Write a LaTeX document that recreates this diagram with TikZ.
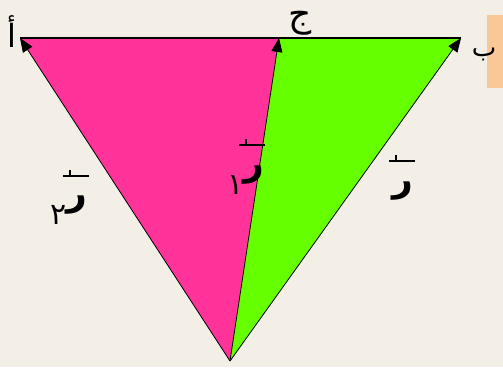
\documentclass[tikz,border=0pt]{standalone}
\usepackage{fontspec}
\newfontfamily\arabicfont[Script=Arabic]{DejaVu Sans}
\TeXXeTstate=1
\usetikzlibrary{arrows.meta}
\definecolor{paper}{RGB}{243,238,230}
\definecolor{rose}{RGB}{255,51,153}
\definecolor{lime}{RGB}{102,255,0}
\definecolor{tag}{RGB}{250,200,150}
\newcommand\subdigit[1]{\raisebox{-19pt}{\mdseries\fontsize{30}{34}\selectfont #1}}

\begin{document}
\begin{tikzpicture}[x=1pt,y=-1pt]
   \tikzstyle{vec}=[black,line width=0.8pt,-{Triangle[length=14pt,width=11pt]}]
   \tikzstyle{lbl}=[inner sep=0pt]
   \tikzstyle{vlbl}=[font=\arabicfont\bfseries\fontsize{36}{42}\selectfont,inner sep=0pt,anchor=base]
   \tikzset{vbar/.pic={\draw [line width=1.2pt] (-13,0) -- (13,0) (-6,0) -- (-6,-6) ;}}

   \fill [paper] (0,0) rectangle (503,367) ;
   \useasboundingbox (0,0) rectangle (503,367) ;
   \fill [tag] (487,15) rectangle (503,88) ;

   \coordinate (A) at (20,38) ;
   \coordinate (C) at (279,38) ;
   \coordinate (B) at (461,38) ;
   \coordinate (O) at (230,361) ;

   \fill [rose] (O) -- (A) -- (C) -- cycle ;
   \fill [lime] (O) -- (C) -- (B) -- cycle ;
   \draw [line width=1.2pt] (A) -- (B) ;
   \draw [vec] (O) -- (A) ;
   \draw [vec] (O) -- (C) ;
   \draw [vec] (O) -- (B) ;

   \node (a) [lbl,font=\arabicfont\fontsize{32}{36}\selectfont] at (12,32) {أ} ;
   \node (c) [lbl,font=\arabicfont\fontsize{36}{40}\selectfont] at (300,23) {ج} ;
   \node (b) [lbl,font=\arabicfont\fontsize{26}{30}\selectfont] at (484,54) {ب} ;

   \node (r) [vlbl] at (403,191) {ر} ;
   \node (r2) [vlbl] at (69,205) {\beginR ر\subdigit{٢}\endR} ;
   \node (r1) [vlbl] at (246,175) {\beginR ر\subdigit{١}\endR} ;
   \pic at (402,161) {vbar} ;
   \pic at (76,176) {vbar} ;
   \pic at (252,145) {vbar} ;
\end{tikzpicture}
\end{document}
